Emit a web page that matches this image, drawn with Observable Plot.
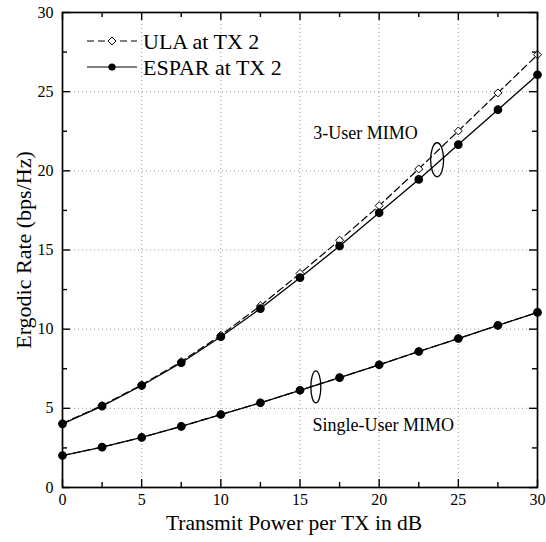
<!DOCTYPE html>
<html><head><meta charset="utf-8">
<script src="https://cdn.jsdelivr.net/npm/d3@7"></script>
<script src="https://cdn.jsdelivr.net/npm/@observablehq/plot@0.6"></script>
<style>
body{margin:0;background:#fff}
#wrap{position:relative;width:546px;height:542px;font-family:"Liberation Serif","Times New Roman",serif}
#legend{position:absolute;left:0;top:0}
</style>
</head><body><div id="wrap"></div>
<script>
// ---- data ----
const power = [0, 2.5, 5, 7.5, 10, 12.5, 15, 17.5, 20, 22.5, 25, 27.5, 30];
const ulaMulti    = [4.05, 5.18, 6.48, 7.95, 9.62, 11.48, 13.52, 15.62, 17.8, 20.12, 22.52, 24.92, 27.33];
const esparMulti  = [4.02, 5.14, 6.44, 7.88, 9.52, 11.3, 13.25, 15.25, 17.35, 19.46, 21.66, 23.86, 26.07];
const ulaSingle   = [2.02, 2.55, 3.16, 3.86, 4.61, 5.35, 6.14, 6.94, 7.75, 8.59, 9.41, 10.24, 11.06];
const esparSingle = [2.02, 2.55, 3.16, 3.86, 4.61, 5.35, 6.14, 6.94, 7.75, 8.59, 9.41, 10.24, 11.06];
const legendLabels = ["ULA at TX 2", "ESPAR at TX 2"];
const majorTicks = [0, 5, 10, 15, 20, 25, 30];
const minorTicks = [2.5, 7.5, 12.5, 17.5, 22.5, 27.5];
const gridTicks = [5, 10, 15, 20, 25];
const annotations = [
  {x: 15.84, y: 22.4, text: "3-User MIMO"},
  {x: 15.79, y: 3.96, text: "Single-User MIMO"}
];
const ellipses = [
  {x: 23.66, y: 20.7, rx: 6.5, ry: 17},
  {x: 16.0, y: 6.35, rx: 5, ry: 16}
];
const xLabel = "Transmit Power per TX in dB";
const yLabel = "Ergodic Rate (bps/Hz)";

// ---- build table ----
function rows(vals, series, group) {
  return power.map((p, i) => ({power: p, rate: vals[i], series, group}));
}
const ula = [...rows(ulaMulti, "ULA", "multi"), ...rows(ulaSingle, "ULA", "single")];
const espar = [...rows(esparMulti, "ESPAR", "multi"), ...rows(esparSingle, "ESPAR", "single")];

const W = 546, H = 542, mL = 62, mR = 9, mT = 12, mB = 55;
const pw = W - mL - mR, ph = H - mT - mB;
const font = '"Liberation Serif","Times New Roman",serif';

function ellipseSymbol(rx, ry) {
  const k = 0.5523;
  return {draw(ctx) {
    ctx.moveTo(rx, 0);
    ctx.bezierCurveTo(rx, ry * k, rx * k, ry, 0, ry);
    ctx.bezierCurveTo(-rx * k, ry, -rx, ry * k, -rx, 0);
    ctx.bezierCurveTo(-rx, -ry * k, -rx * k, -ry, 0, -ry);
    ctx.bezierCurveTo(rx * k, -ry, rx, -ry * k, rx, 0);
    ctx.closePath();
  }};
}

function tickMarks(vals, len) {
  const o = {stroke: "#000", strokeWidth: 1.4};
  return [
    Plot.ruleY(vals, {y: d => d, insetRight: pw - len, ...o}),
    Plot.ruleY(vals, {y: d => d, insetLeft: pw - len, ...o}),
    Plot.ruleX(vals, {x: d => d, insetTop: ph - len, ...o}),
    Plot.ruleX(vals, {x: d => d, insetBottom: ph - len, ...o})
  ];
}

const chart = Plot.plot({
  width: W, height: H,
  marginLeft: mL, marginRight: mR, marginTop: mT, marginBottom: mB,
  style: {fontFamily: font, fontSize: "16px", background: "#fff", color: "#000"},
  x: {domain: [0, 30]},
  y: {domain: [0, 30]},
  marks: [
    Plot.gridX(gridTicks, {stroke: "#9a9a9a", strokeOpacity: 1, strokeDasharray: "1,3", strokeWidth: 1}),
    Plot.gridY(gridTicks, {stroke: "#9a9a9a", strokeOpacity: 1, strokeDasharray: "1,3", strokeWidth: 1}),
    Plot.axisX({ticks: majorTicks, tickSize: 0, tickPadding: 6, label: null, fontSize: 16}),
    Plot.axisY({ticks: majorTicks, tickSize: 0, tickPadding: 9, label: null, fontSize: 16}),
    ...tickMarks(majorTicks, 8),
    ...tickMarks(minorTicks, 5),
    Plot.line(ula, {x: "power", y: "rate", z: "group", stroke: "#000", strokeWidth: 1.2, strokeDasharray: "7,4"}),
    Plot.line(espar, {x: "power", y: "rate", z: "group", stroke: "#000", strokeWidth: 1.3}),
    Plot.dot(ula, {x: "power", y: "rate", symbol: "diamond2", r: 3.6, fill: "#fff", stroke: "#000", strokeWidth: 1}),
    Plot.dot(espar, {x: "power", y: "rate", symbol: "circle", r: 3.6, fill: "#000", stroke: "#000"}),
    ...ellipses.map(e => Plot.dot([e], {x: "x", y: "y", r: 1, symbol: ellipseSymbol(e.rx, e.ry), fill: "none", stroke: "#000", strokeWidth: 1.3})),
    Plot.text(annotations, {x: "x", y: "y", text: "text", textAnchor: "start", fontSize: 18, fill: "#000"}),
    Plot.text([xLabel], {text: d => d, frameAnchor: "bottom", dx: -6, dy: 36, lineAnchor: "middle", textAnchor: "middle", fontSize: 21.5, fill: "#000"}),
    Plot.text([yLabel], {text: d => d, frameAnchor: "left", dx: -39, rotate: -90, lineAnchor: "middle", textAnchor: "middle", fontSize: 22, fill: "#000"}),
    Plot.frame({stroke: "#000", strokeWidth: 1.7})
  ]
});

const wrap = document.getElementById("wrap");
wrap.appendChild(chart);

// ---- legend (overlay) ----
const lg = d3.select(wrap).append("svg").attr("id", "legend").attr("width", W).attr("height", 100);
const rowsY = [41, 67];
legendLabels.forEach((lab, i) => {
  const g = lg.append("g").attr("transform", `translate(0,${rowsY[i]})`);
  g.append("line").attr("x1", 87).attr("x2", 137).attr("y1", 0).attr("y2", 0)
    .attr("stroke", "#000").attr("stroke-width", 1.2)
    .attr("stroke-dasharray", i === 0 ? "7,4" : null);
  if (i === 0) {
    g.append("path").attr("d", d3.symbol(d3.symbolDiamond2, 3.6 * 3.6 * Math.PI)())
      .attr("transform", "translate(112,0)").attr("fill", "#fff").attr("stroke", "#000");
  } else {
    g.append("circle").attr("cx", 112).attr("cy", 0).attr("r", 3.6).attr("fill", "#000");
  }
  g.append("text").attr("x", 143).attr("y", 0).attr("dy", "0.35em")
    .attr("font-family", font).attr("font-size", 22).attr("fill", "#000").text(lab);
});
</script>
</body></html>
